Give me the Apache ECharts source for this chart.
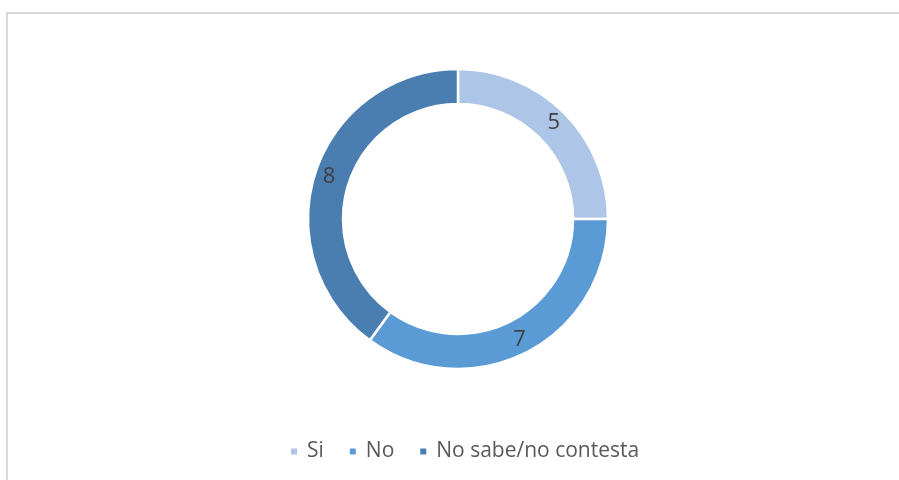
<!DOCTYPE html>
<html lang="es">

<head>
    <meta charset="UTF-8">
    <title>Donut</title>
    <script src="https://cdn.jsdelivr.net/npm/echarts@6/dist/echarts.min.js"></script>
</head>

<body style="margin:0;background:#fff;">
    <div id="main" style="width: 899px;height:480px;"></div>

    <script type="text/javascript">
        // chart data
        const categories = ['Si', 'No', 'No sabe/no contesta'];
        const values = [5, 7, 8];
        const colors = ['#adc5e7', '#5b9bd5', '#4a7eb0'];

        let myChart = echarts.init(document.getElementById('main'));

        let options = {
            animation: false,
            color: colors,
            graphic: [{
                type: 'rect',
                shape: { x: 7, y: 13, width: 1000, height: 600 },
                style: { fill: 'none', stroke: '#d9d9d9', lineWidth: 2 },
                silent: true
            }],
            legend: {
                data: categories,
                top: 436,
                left: 284,
                icon: 'rect',
                itemWidth: 8,
                itemHeight: 8,
                itemGap: 24,
                textStyle: {
                    color: '#595959', fontSize: 21, fontFamily: 'Open Sans',
                    padding: [0, 0, 0, 4]
                }
            },
            series: [{
                type: 'pie',
                center: [458, 219],
                radius: [115, 150],
                startAngle: 90,
                itemStyle: { borderColor: '#fff', borderWidth: 2.5 },
                label: {
                    show: true,
                    position: 'inside',
                    formatter: '{c}',
                    color: '#404040',
                    fontSize: 22,
                    fontFamily: 'Open Sans',
                    padding: [6, 0, 0, 0]
                },
                labelLine: { show: false },
                data: categories.map((name, i) => ({ name: name, value: values[i] }))
            }]
        };

        myChart.setOption(options);
    </script>
</body>

</html>
